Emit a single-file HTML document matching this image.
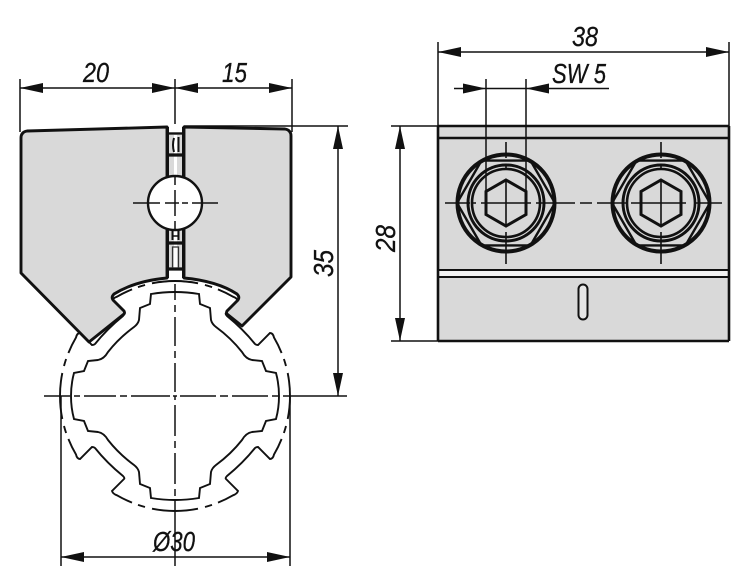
<!DOCTYPE html>
<html>
<head>
<meta charset="utf-8">
<style>
html,body{margin:0;padding:0;background:#fff;width:750px;height:586px;overflow:hidden}
svg{display:block}
text{font-family:"Liberation Sans",sans-serif;font-style:italic;font-size:28px;fill:#111;stroke:#111;stroke-width:.3}
</style>
</head>
<body>
<svg width="750" height="586" viewBox="0 0 750 586" xmlns="http://www.w3.org/2000/svg">
<defs>
<g id="q" fill="none" stroke="#111" stroke-width="1.9">
<path d="M0,-104 Q12,-104 24,-102 L25,-92 L35,-88 L36,-76 Q37,-72 41,-69 Q56,-58 67,-44 Q71,-37 77,-36 L87,-35 L91,-25 L101,-23 Q104,-12 104,0"/>
<path d="M43,-106.600 A115,115 0 0 1 58,-99.300 Q62,-98 63,-95 L51,-83 Q50,-82 52,-80 Q68,-67 80,-52 Q81,-51 83,-51 L95,-63 Q98,-63 99,-58.500 A115,115 0 0 1 106.600,-43"/>
<path d="M0,-115 A115,115 0 0 1 23,-112.700 M30,-111 A115,115 0 0 1 37,-108.900"/>
<path d="M108.900,-37 A115,115 0 0 1 111,-30 M112.700,-23 A115,115 0 0 1 115,0"/>
</g>
<g id="arc" fill="none" stroke="#111" stroke-width="1.5">
<path d="M0,-115 A115,115 0 0 1 23,-112.700 M30,-111 A115,115 0 0 1 37,-108.900 M43,-106.600 A115,115 0 0 1 58,-99.300"/>
</g>
</defs>

<!-- profile -->
<circle cx="175" cy="396" r="115" fill="#fff" stroke="none"/>
<g transform="translate(175,396)">
  <use href="#q"/>
  <use href="#q" transform="scale(-1,1)"/>
  <use href="#q" transform="scale(1,-1)"/>
  <use href="#q" transform="scale(-1,-1)"/>
</g>

<!-- left body halves -->
<path d="M167,127 L27,131 Q21,132 21,138 L21,273 L89,342 L124,314 Q125,313 124,311 L113,300 Q111,297 114,294 Q135,281 167,278 Z" fill="#d9d9d9" stroke="#111" stroke-width="2.9" stroke-linejoin="round"/>
<path d="M184,127 L285,129 Q291,130 291,136 L291,277 L242,326 L227,314 Q226,313 227,311 L238,300 Q240,297 237,294 Q217,281 184,278 Z" fill="#d9d9d9" stroke="#111" stroke-width="2.9" stroke-linejoin="round"/>

<g transform="translate(175,396)">
  <use href="#arc"/>
  <use href="#arc" transform="scale(-1,1)"/>
</g>

<!-- slot between halves -->
<rect x="167" y="133" width="17" height="145" fill="#fff"/>
<rect x="169" y="135" width="5" height="135" fill="#d9d9d9"/>
<rect x="177" y="135" width="5" height="135" fill="#d9d9d9"/>
<g stroke="#111" fill="none">
  <path stroke-width="3" d="M167.500,127 V278 M183.500,127 V278"/>
  <path stroke-width="2.400" d="M168,133.500 H183"/>
  <path stroke-width="3.200" d="M168,155 H183 M168,243 H183 M168,269 H183"/>
  <path stroke-width="2" d="M174,138 Q172,145 174,152 M178.500,137 V152"/>
  <path stroke-width="2" d="M172.500,228 V240 M178.500,228 V240"/>
  <path stroke-width="1.500" d="M172,236 H179"/>
  <path stroke-width="1.300" d="M172.500,268 V247 H178.500 V268" stroke="#333"/>
</g>
<circle cx="175" cy="203" r="27" fill="#fff" stroke="#111" stroke-width="2.400"/>

<!-- left view dimensions and centre lines -->
<g stroke="#111" stroke-width="1.500" fill="none">
  <path d="M20,79 V132 M292,79 V132"/>
  <path d="M20,88 H292"/>
  <path d="M175,79 V124"/>
  <path d="M175,176 V185 M175,190 V216 M175,221 V230 M175,284 V300 M175,305 V312 M175,317 V346 M175,351 V358 M175,363 V392 M175,396 V400 M175,405 V436 M175,441 V448 M175,453 V484 M175,489 V496 M175,501 V566"/>
  <path d="M133,203 H160 M165,203 H171 M171,203 H179 M182,203 H188 M192,203 H218"/>
  <path d="M184,126 H348"/>
  <path d="M338,126 V396"/>
  <path d="M44,396 H70 M74,396 H80 M84,396 H116 M120,396 H127 M131,396 H170 M173,396 H177 M180,396 H216 M220,396 H228 M232,396 H268 M272,396 H279 M283,396 H347"/>
  <path d="M61,396 V566 M290,396 V566"/>
  <path d="M61,557 H290"/>
</g>
<g fill="#111">
  <path d="M20,88 L43,83 V93 Z M175,88 L152,83 V93 Z M175,88 L198,83 V93 Z M292,88 L269,83 V93 Z"/>
  <path d="M338,126 L333,149 H343 Z M338,396 L333,373 H343 Z"/>
  <path d="M61,557 L84,552 V562 Z M290,557 L267,552 V562 Z"/>
</g>
<text x="83" y="82" textLength="26" lengthAdjust="spacingAndGlyphs">20</text>
<text x="222" y="82" textLength="25" lengthAdjust="spacingAndGlyphs">15</text>
<text x="153" y="551" textLength="42" lengthAdjust="spacingAndGlyphs">Ø30</text>
<text transform="translate(333,277) rotate(-90)" textLength="27" lengthAdjust="spacingAndGlyphs">35</text>

<!-- right view -->
<rect x="438" y="126" width="291" height="215" fill="#d9d9d9"/>
<rect x="438" y="271" width="291" height="5" fill="#f2f2f2"/>
<g stroke="#111" fill="none">
  <path stroke-width="2.600" d="M438,126 H729 M438,138 H729 M438,341 H729 M438,126 V341 M729,126 V341"/>
  <path stroke-width="2" d="M438,270 H729 M438,277 H729"/>
</g>
<rect x="578.500" y="284.500" width="9" height="35" rx="4.500" fill="#e6e6e6" stroke="#111" stroke-width="2"/>

<!-- bolts -->
<g fill="none" stroke="#111">
  <circle cx="506" cy="203" r="48.500" stroke-width="4"/>
  <path d="M457,203 L481.500,160.600 H530.500 L555,203 L530.500,245.400 H481.500 Z" stroke-width="2.400"/>
  <circle cx="506" cy="203" r="38" stroke-width="3"/>
  <circle cx="506" cy="203" r="34" stroke-width="2.600"/>
  <path d="M506,180 L526,191.500 V214.500 L506,226 L486,214.500 V191.500 Z" stroke-width="3"/>
  <path d="M506,142 V158 M506,164 V168 M506,180 V226 M506,232 V264 M481,203 H531" stroke-width="1.600"/>
</g>
<g fill="none" stroke="#111">
  <circle cx="661" cy="203" r="48.500" stroke-width="4"/>
  <path d="M612,203 L636.500,160.600 H685.500 L710,203 L685.500,245.400 H636.500 Z" stroke-width="2.400"/>
  <circle cx="661" cy="203" r="38" stroke-width="3"/>
  <circle cx="661" cy="203" r="34" stroke-width="2.600"/>
  <path d="M661,180 L681,191.500 V214.500 L661,226 L641,214.500 V191.500 Z" stroke-width="3"/>
  <path d="M661,142 V158 M661,164 V168 M661,180 V226 M661,232 V264 M636,203 H686" stroke-width="1.600"/>
</g>

<!-- right view dimensions -->
<g stroke="#111" stroke-width="1.500" fill="none">
  <path d="M438,42 V126 M729,42 V126 M438,52 H729"/>
  <path d="M454,88.500 H609"/>
  <path d="M486,79 V195 M526,79 V195"/>
  <path d="M445,203 H470 M472,203 H476 M536,203 H575 M580,203 H592 M597,203 H626 M631,203 H636 M696,203 H722"/>
  <path d="M391,126 H438 M391,341 H438 M400,126 V341"/>
</g>
<g fill="#111">
  <path d="M438,52 L461,47 V57 Z M729,52 L706,47 V57 Z"/>
  <path d="M486,88.500 L463,83.500 V93.500 Z M526,88.500 L549,83.500 V93.500 Z"/>
  <path d="M400,126 L395,149 H405 Z M400,341 L395,318 H405 Z"/>
</g>
<text x="572" y="46" textLength="26" lengthAdjust="spacingAndGlyphs">38</text>
<text x="552" y="83" textLength="54" lengthAdjust="spacingAndGlyphs">SW 5</text>
<text transform="translate(395,252) rotate(-90)" textLength="27" lengthAdjust="spacingAndGlyphs">28</text>
</svg>
</body>
</html>
